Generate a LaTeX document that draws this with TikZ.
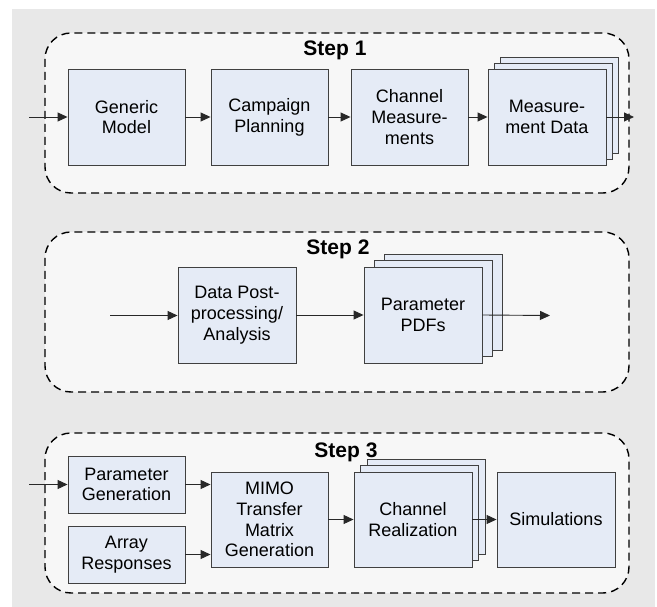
\documentclass[tikz,border=0pt]{standalone}
\usepackage{fontspec}
\setmainfont{Liberation Sans}
\usetikzlibrary{arrows.meta}
\definecolor{bgray}{RGB}{232,232,232}
\definecolor{regfill}{RGB}{247,247,247}
\definecolor{boxfill}{RGB}{229,235,246}
\definecolor{boxline}{RGB}{64,64,64}
\definecolor{arrline}{RGB}{40,40,40}
\tikzset{
  region/.style={draw=black, fill=regfill, line width=1.4pt, dash pattern=on 8pt off 5pt, rounded corners=26pt},
  blk/.style={draw=boxline, fill=boxfill, line width=0.9pt, align=center, inner sep=0pt,
    font=\fontsize{18}{20.7}\selectfont},
  ttl/.style={font=\bfseries\fontsize{21}{24}\selectfont, anchor=base, inner sep=0pt},
  conn/.style={draw=arrline, line width=0.9pt, -{Triangle[length=10pt,width=9pt]}}
}
\begin{document}
\begin{tikzpicture}[x=1pt,y=-1pt]
\useasboundingbox (0,0) rectangle (657,607);
\fill[white] (0,0) rectangle (657,607);
\fill[bgray] (12,9) rectangle (655,607);

% regions
\draw[region] (45,33) rectangle (629,193);
\draw[region] (45,232) rectangle (629,392);
\draw[region] (45,433) rectangle (629,593);

% titles
\node[ttl] (t1) at (335,56) {Step 1};
\node[ttl] (t2) at (338,255) {Step 2};
\node[ttl] (t3) at (346,457) {Step 3};

% Step 1
\node[blk, minimum width=117, minimum height=96] (gm) at (126.5,117) {Generic\\Model};
\node[blk, minimum width=117, minimum height=96] (cp) at (269.5,117) {Campaign\\Planning};
\node[blk, minimum width=117, minimum height=96] (cm) at (409.5,117) {Channel\\Measure-\\ments};
\node[blk, minimum width=118, minimum height=96] (md3) at (559,105) {};
\node[blk, minimum width=118, minimum height=96] (md2) at (553,111) {};
\node[blk, minimum width=118, minimum height=96] (md) at (547,117) {Measure-\\ment Data};
\coordinate (in1) at (29,117);
\coordinate (out1) at (634,117);

% Step 2
\node[blk, minimum width=118, minimum height=96] (dp) at (237,315) {Data Post-\\processing/\\Analysis};
\node[blk, minimum width=118, minimum height=96] (pp3) at (443,302) {};
\node[blk, minimum width=118, minimum height=96] (pp2) at (433,308.5) {};
\node[blk, minimum width=118, minimum height=96] (pp) at (423,315) {Parameter\\PDFs};
\coordinate (in2) at (110,315.5);
\coordinate (out2) at (550,315.5);

% Step 3
\node[blk, minimum width=117, minimum height=57] (pg) at (126.5,484.5) {Parameter\\Generation};
\node[blk, minimum width=117, minimum height=57] (ar) at (126.5,554.5) {Array\\Responses};
\node[blk, minimum width=117, minimum height=95] (mimo) at (269.5,519.5) {MIMO\\Transfer\\Matrix\\Generation};
\node[blk, minimum width=118, minimum height=95] (cr3) at (426,506.5) {};
\node[blk, minimum width=118, minimum height=95] (cr2) at (419.5,513) {};
\node[blk, minimum width=118, minimum height=95] (cr) at (413,519.5) {Channel\\Realization};
\node[blk, minimum width=118, minimum height=95] (sim) at (556,519.5) {Simulations};
\coordinate (in3) at (29,484.5);

% connectors
\draw[conn] (in1) -- (gm.west);
\draw[conn] (gm) -- (cp);
\draw[conn] (cp) -- (cm);
\draw[conn] (cm) -- (md);
\draw[conn] (md.east) -- (out1);

\draw[conn] (in2) -- (in2 -| dp.west);
\draw[conn] (dp) -- (pp);
\draw[conn] (pp.east) -- (out2);

\draw[conn] (in3) -- (pg.west);
\draw[conn] (pg.east) -- (pg.east -| mimo.west);
\draw[conn] (ar.east) -- (ar.east -| mimo.west);
\draw[conn] (mimo) -- (cr);
\draw[conn] (cr.east) -- (sim.west);
\end{tikzpicture}
\end{document}
